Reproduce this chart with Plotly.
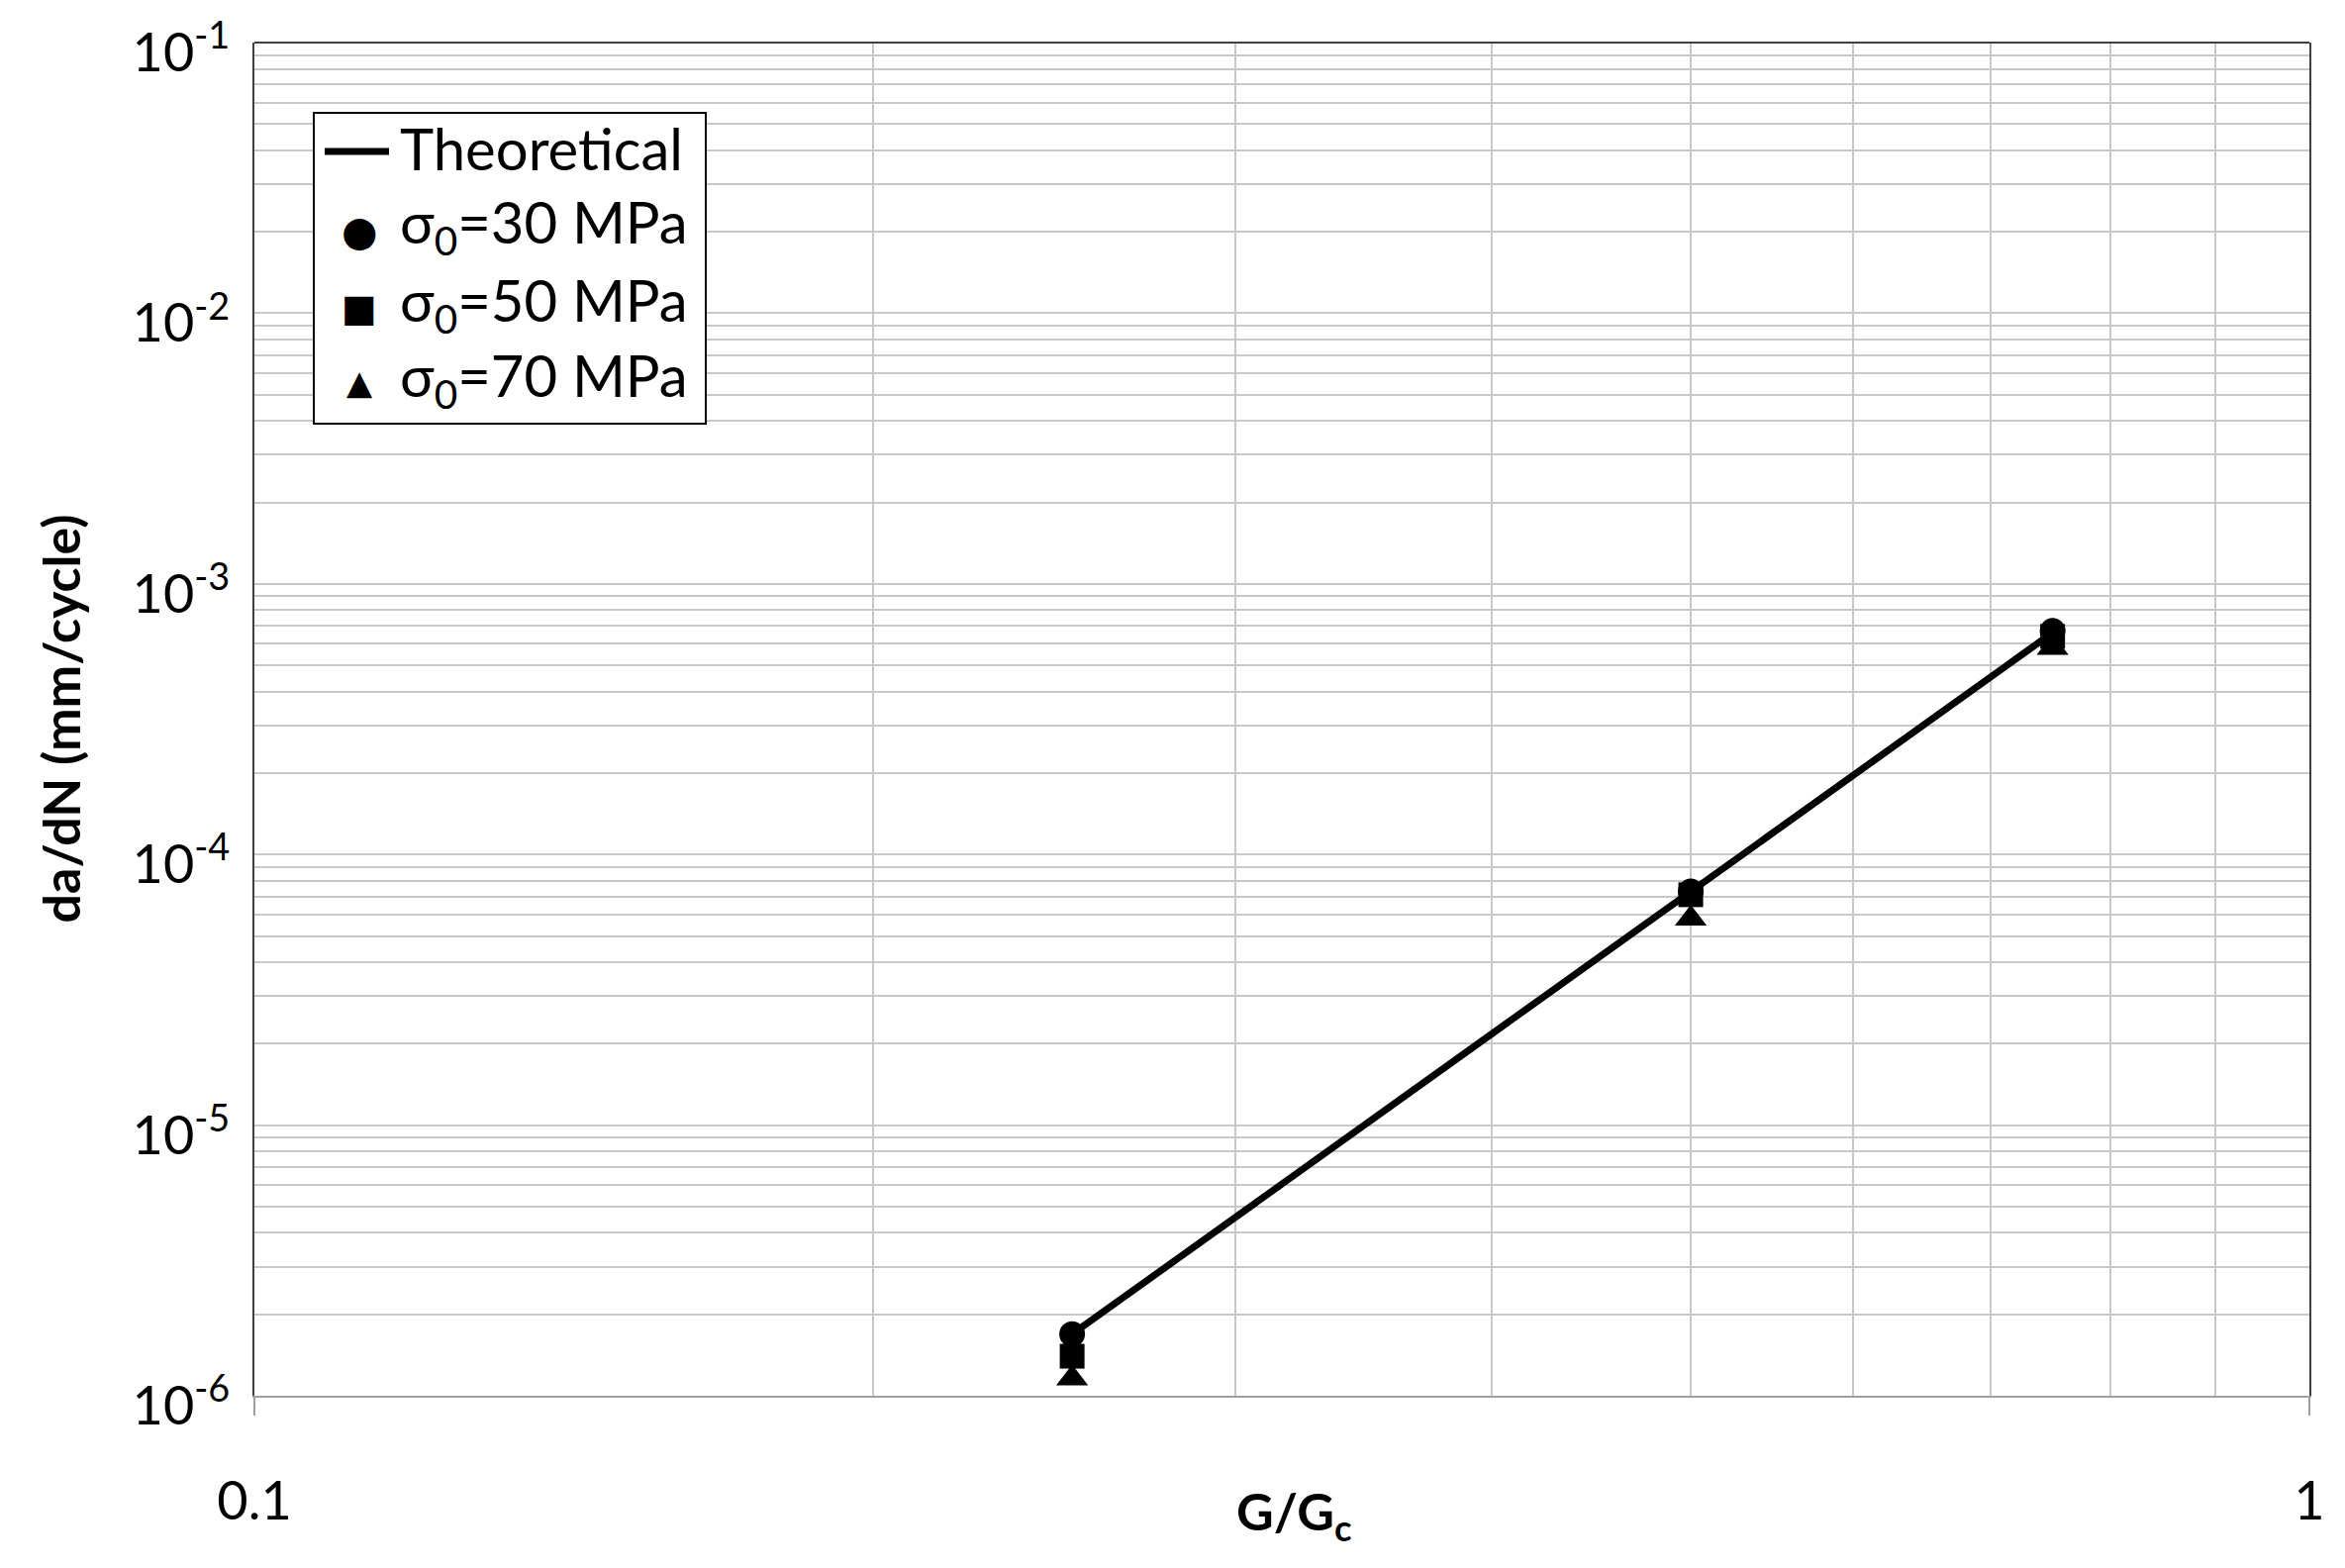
import plotly.graph_objects as go

# Data
g_ratio = [0.25, 0.5, 0.75]
theoretical = [1.69e-6, 7.3e-5, 6.6e-4]
s30 = [1.69e-6, 7.3e-5, 6.7e-4]
s50 = [1.40e-6, 7.1e-5, 6.4e-4]
s70 = [1.16e-6, 5.8e-5, 5.8e-4]

y_tickvals = [1e-6, 1e-5, 1e-4, 1e-3, 1e-2, 1e-1]
y_ticktext = ["10<sup>-6</sup>", "10<sup>-5</sup>", "10<sup>-4</sup>",
              "10<sup>-3</sup>", "10<sup>-2</sup>", "10<sup>-1</sup>"]
x_tickvals = [0.1, 1]
x_ticktext = ["0.1", "1"]

legend_labels = ["Theoretical", "σ<sub>0</sub>=30 MPa", "σ<sub>0</sub>=50 MPa", "σ<sub>0</sub>=70 MPa"]
legend_glyphs = ["", "●", "■", "▲"]

FONT = "Lato"
W, H = 2369, 1584
OFF = 8  # page offset of the figure (browser body margin)
# target plot area in page pixels
PL, PR, PT, PB = 257, 2333, 43, 1410
L, T = PL - OFF, PT - OFF
R = W - (PR - OFF)
B = H - (PB - OFF)
PW, PH = PR - PL, PB - PT


def px(x):
    return (x - PL) / PW


def py(y):
    return (PB - y) / PH


fig = go.Figure()
fig.add_trace(go.Scatter(x=g_ratio, y=theoretical, mode="lines", name=legend_labels[0],
                         line=dict(color="black", width=7), showlegend=False))
fig.add_trace(go.Scatter(x=g_ratio, y=s30, mode="markers", name=legend_labels[1],
                         marker=dict(symbol="circle", size=26, color="black"), showlegend=False))
fig.add_trace(go.Scatter(x=g_ratio, y=s50, mode="markers", name=legend_labels[2],
                         marker=dict(symbol="square", size=25, color="black"), showlegend=False))
fig.add_trace(go.Scatter(x=g_ratio, y=s70, mode="markers", name=legend_labels[3],
                         marker=dict(symbol="triangle-up", size=28, color="black"), showlegend=False))

# Manual legend (box, line sample, symbol glyphs, labels)
shapes = [
    dict(type="line", xref="paper", yref="paper", x0=0, x1=1, y0=1, y1=1,
         line=dict(color="#404040", width=2), layer="above"),
    dict(type="rect", xref="paper", yref="paper", x0=px(317), x1=px(713), y0=py(114), y1=py(428),
         line=dict(color="black", width=2), fillcolor="white", layer="above"),
    dict(type="line", xref="paper", yref="paper", x0=px(328), x1=px(393), y0=py(153), y1=py(153),
         line=dict(color="black", width=7), layer="above"),
]
row_y = [150, 228, 307, 383]
glyph_y = [153, 233, 311, 386]
glyph_size = [0, 42, 38, 34]
annotations = []
for i, lab in enumerate(legend_labels):
    annotations.append(dict(text=lab, xref="paper", yref="paper", x=px(402), y=py(row_y[i]),
                            xanchor="left", yanchor="middle", showarrow=False,
                            font=dict(family=FONT, size=58, color="black")))
    if legend_glyphs[i]:
        annotations.append(dict(text=legend_glyphs[i], xref="paper", yref="paper", x=px(363),
                                y=py(glyph_y[i]), xanchor="center", yanchor="middle",
                                showarrow=False,
                                font=dict(family="DejaVu Sans", size=glyph_size[i], color="black")))

# Axis titles
annotations.append(dict(text="<b>G/G<sub>c</sub></b>", xref="paper", yref="paper", x=px(1307),
                        y=py(1530), xanchor="center", yanchor="middle", showarrow=False,
                        font=dict(family=FONT, size=52, color="black")))
annotations.append(dict(text="<b>da/dN (mm/cycle)</b>", xref="paper", yref="paper", x=px(60),
                        y=0.5, xanchor="center", yanchor="middle", showarrow=False, textangle=-90,
                        font=dict(family=FONT, size=52, color="black")))

grid = "#c8c8c8"
fig.update_layout(
    width=W, height=H,
    margin=dict(l=L, r=R, t=T, b=B),
    paper_bgcolor="white", plot_bgcolor="white",
    font=dict(family=FONT, size=54, color="black"),
    showlegend=False,
    shapes=shapes,
    annotations=annotations,
    xaxis=dict(type="log", range=[-1, 0], tickvals=x_tickvals, ticktext=x_ticktext,
               showgrid=True, gridcolor=grid, gridwidth=2,
               minor=dict(dtick="D1", showgrid=True, gridcolor=grid, gridwidth=2, ticks=""),
               showline=True, linecolor="#a0a0a0", linewidth=2, mirror=False,
               ticks="outside", ticklen=18, tickcolor="#a0a0a0", tickwidth=2,
               ticklabelstandoff=40, ticklabeloverflow="allow",
               automargin=False, zeroline=False),
    yaxis=dict(type="log", range=[-6, -1], tickvals=y_tickvals, ticktext=y_ticktext,
               showgrid=True, gridcolor=grid, gridwidth=2,
               minor=dict(dtick="D1", showgrid=True, gridcolor=grid, gridwidth=2, ticks=""),
               showline=True, linecolor="#404040", linewidth=2, mirror=True,
               ticks="", ticklabelstandoff=12, ticklabelshift=10, ticklabeloverflow="allow",
               automargin=False, zeroline=False),
)

fig.write_html("out.html")
